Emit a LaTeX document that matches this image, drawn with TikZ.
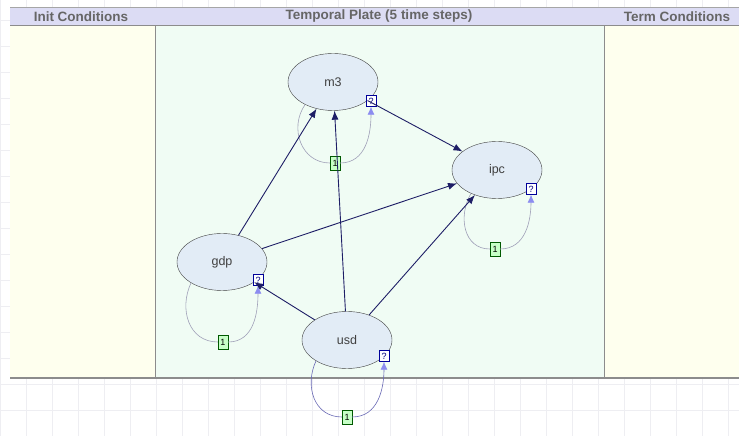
\documentclass[tikz,border=0pt]{standalone}
\usepackage{fontspec}
\setmainfont{Liberation Sans}
\usetikzlibrary{positioning, arrows.meta, shapes.geometric}
\definecolor{hdrfill}{HTML}{DCDCF4}
\definecolor{condfill}{HTML}{FEFFEE}
\definecolor{platefill}{HTML}{F0FCF4}
\definecolor{varfill}{HTML}{E2ECF6}
\definecolor{arcnavy}{HTML}{1E1E66}
\definecolor{looppurple}{HTML}{8C8CF0}
\definecolor{loopgray}{HTML}{A0A0B8}
\definecolor{gridgray}{HTML}{EEEEF2}

\begin{document}
\begin{tikzpicture}[x=1pt, y=1pt, font=\fontsize{12.5}{14}\selectfont,
    var/.style={ellipse, draw=black!75, fill=varfill, minimum width=90pt,
      minimum height=57pt, inner sep=0pt, text=black!75},
    qbox/.style={draw=blue!60!black, fill=white, minimum width=10pt,
      minimum height=11pt, inner sep=0pt, text=blue!50!black,
      font=\fontsize{9}{9}\selectfont},
    onebox/.style={draw=green!35!black, fill=green!22, minimum width=10pt,
      minimum height=14pt, inner sep=0pt, font=\fontsize{9}{9}\selectfont},
    dep/.style={draw=arcnavy, line width=0.9pt, -{Latex[length=9pt,width=7pt]}},
    selfloop/.style={draw=loopgray, line width=0.6pt},
    looptip/.style={-{Latex[length=8pt,width=7pt,color=looppurple]}},
    hdr/.style={font=\fontsize{13.5}{15}\selectfont\bfseries, text=black!60}]
    \useasboundingbox (0,0) rectangle (739,436);
    % background grid and panels
    \draw[gridgray, step=26] (0,0) grid (739,436);
    \fill[condfill]  (10,58)  rectangle (155,410);
    \fill[platefill] (155,58) rectangle (604,410);
    \fill[condfill]  (604,58) rectangle (739,410);
    \fill[hdrfill]   (10,410) rectangle (739,429);
    \draw[black!35] (10,429) -- (739,429);
    \draw[black!45, line width=1pt] (10,410) -- (739,410);
    \draw[black!45, line width=1pt] (155,410) -- (155,58);
    \draw[black!45, line width=1pt] (604,410) -- (604,58);
    \draw[black!45, line width=1.2pt] (10,58) -- (739,58);
    \node[hdr] (hinit)  at (81,419.5)  {Init Conditions};
    \node[hdr] (hplate) at (379,419.5) {Temporal Plate (5 time steps)};
    \node[hdr] (hterm)  at (677,419.5) {Term Conditions};

    % variables
    \node[var] (m3)  at (333,354) {m3};
    \node[var] (ipc) at (497,266) {ipc};
    \node[var] (gdp) at (222,174) {gdp};
    \node[var] (usd) at (347,96)  {usd};

    \node[qbox] (m3q)  at (371,335) {?};
    \node[qbox] (ipcq) at (531,247) {?};
    \node[qbox] (gdpq) at (258,156) {?};
    \node[qbox] (usdq) at (384,80)  {?};

    \node[onebox] (m3one)  at (335,273) {1};
    \node[onebox] (ipcone) at (495,187) {1};
    \node[onebox] (gdpone) at (223,94)  {1};
    \node[onebox] (usdone) at (347,19)  {1};

    % temporal self loops
    \draw[selfloop] (m3.219) to[out=235, in=180, looseness=1.15] (m3one.west);
    \draw[selfloop, looptip] (m3one.east) to[out=0, in=-90, looseness=1.05] (m3q.south);
    \draw[selfloop] (ipc.222) to[out=240, in=180, looseness=1.15] (ipcone.west);
    \draw[selfloop, looptip] (ipcone.east) to[out=0, in=-90, looseness=1.05] (ipcq.south);
    \draw[selfloop] (gdp.214) to[out=245, in=180, looseness=1.15] (gdpone.west);
    \draw[selfloop, looptip] (gdpone.east) to[out=0, in=-90, looseness=1.05] (gdpq.south);
    \draw[selfloop, draw=looppurple!75!black] (usd.214) to[out=245, in=180, looseness=1.15] (usdone.west);
    \draw[selfloop, draw=looppurple!75!black, looptip] (usdone.east) to[out=0, in=-90, looseness=1.05] (usdq.south);

    % dependencies
    \draw[dep] (gdp) -- (m3);
    \draw[dep] (usd) -- (m3);
    \draw[dep] (m3) -- (ipc);
    \draw[dep] (gdp) -- (ipc);
    \draw[dep] (usd) -- (ipc);
    \draw[dep] (usd) -- (gdp);
\end{tikzpicture}
\end{document}
